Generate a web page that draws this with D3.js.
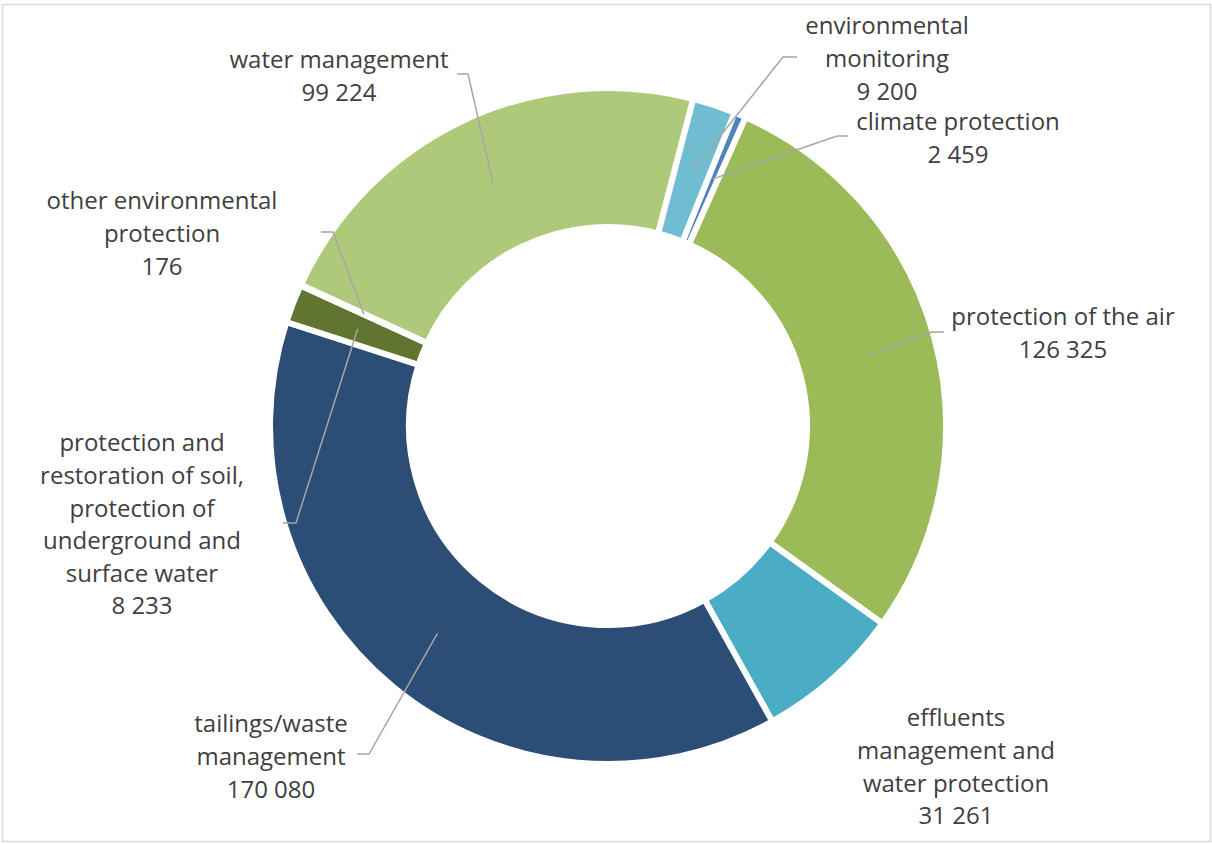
<!DOCTYPE html>
<html>
<head>
<meta charset="utf-8">
<script src="https://cdn.jsdelivr.net/npm/d3@7"></script>
<style>
  html, body { margin: 0; padding: 0; background: #fff; }
  svg { display: block; }
  text { font-family: "Open Sans", sans-serif; fill: #404040; }
</style>
</head>
<body>
<svg id="chart" width="1212" height="844"></svg>
<script>
// ---- data ----
const categories = [
  "protection of the air",
  "effluents management and water protection",
  "tailings/waste management",
  "protection and restoration of soil, protection of underground and surface water",
  "other environmental protection",
  "water management",
  "environmental monitoring",
  "climate protection"
];
const values = [126325, 31261, 170080, 8233, 176, 99224, 9200, 2459];
const valueLabels = ["126 325", "31 261", "170 080", "8 233", "176", "99 224", "9 200", "2 459"];
const labelLines = [
  ["protection of the air"],
  ["effluents", "management and", "water protection"],
  ["tailings/waste", "management"],
  ["protection and", "restoration of soil,", "protection of", "underground and", "surface water"],
  ["other environmental", "protection"],
  ["water management"],
  ["environmental", "monitoring"],
  ["climate protection"]
];
const colors = ["#9BBB59", "#4BACC6", "#2C4D75", "#5F7530", "#772C2A", "#AFC97A", "#70BDD1", "#4F81BD"];

// ---- layout ----
const W = 1212, H = 844;
const cx = 608, cy = 426;
const outerR = 338, innerR = 199;
const startDeg = 24;
const fontSize = 24, lineH = 32.6;
// label block: center x, first line center y; leader stub [x from, x to, y] (null = no leader)
const labelPos = [
  {x: 1063, y: 317, stub: [944, 932, 332]},
  {x: 956, y: 718, stub: null},
  {x: 271, y: 724, stub: [357, 369, 754]},
  {x: 142, y: 443, stub: [283, 296, 523]},
  {x: 162, y: 201, stub: [321, 333, 232]},
  {x: 339, y: 60, stub: [457, 468, 74]},
  {x: 887, y: 26, stub: [797, 783, 57]},
  {x: 958, y: 122, stub: [848, 837, 136]}
];

const svg = d3.select("#chart");

// chart area border
svg.append("rect")
  .attr("x", 2.5).attr("y", 4.5).attr("width", 1208).attr("height", 837)
  .attr("fill", "none").attr("stroke", "#d9d9d9").attr("stroke-width", 1.5);

const data = categories.map((c, i) => ({name: c, value: values[i], i}));

const pie = d3.pie().sort(null).value(d => d.value)
  .startAngle(startDeg * Math.PI / 180)
  .endAngle(startDeg * Math.PI / 180 + 2 * Math.PI);

const arc = d3.arc().innerRadius(innerR).outerRadius(outerR);

const arcs = pie(data);

const g = svg.append("g").attr("transform", `translate(${cx},${cy})`);

g.selectAll("path.slice")
  .data(arcs)
  .join("path")
  .attr("class", "slice")
  .attr("d", arc)
  .attr("fill", (d, i) => colors[i])
  .attr("stroke", "#fff")
  .attr("stroke-width", 6)
  .attr("stroke-linejoin", "miter");

// leader lines
arcs.forEach((a, i) => {
  const p = labelPos[i];
  if (!p.stub) return;
  const c = arc.centroid(a);
  const px = cx + c[0], py = cy + c[1];
  svg.append("polyline")
    .attr("points", `${p.stub[0]},${p.stub[2]} ${p.stub[1]},${p.stub[2]} ${px},${py}`)
    .attr("fill", "none")
    .attr("stroke", "#a6a6a6")
    .attr("stroke-width", 1.5);
});

// labels
arcs.forEach((a, i) => {
  const p = labelPos[i];
  const lines = labelLines[i].concat([valueLabels[i]]);
  const t = svg.append("text")
    .attr("text-anchor", "middle")
    .attr("font-size", fontSize);
  lines.forEach((ln, k) => {
    t.append("tspan")
      .attr("x", p.x)
      .attr("y", p.y + k * lineH)
      .attr("dy", "0.35em")
      .text(ln);
  });
});
</script>
</body>
</html>
